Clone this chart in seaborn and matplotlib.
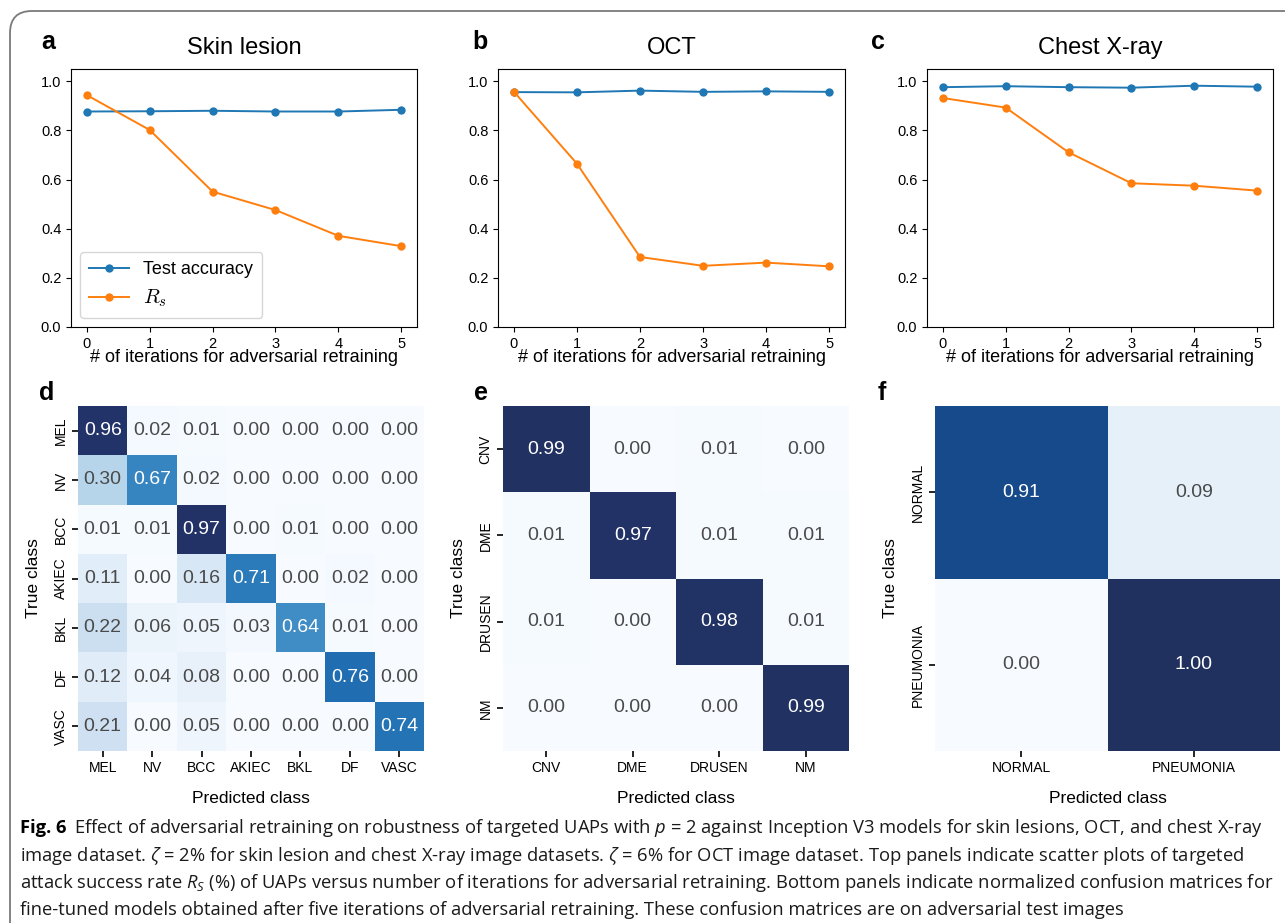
import numpy as np
import pandas as pd
import matplotlib
matplotlib.use('Agg')
import matplotlib.pyplot as plt
import seaborn as sns
from matplotlib.colors import LinearSegmentedColormap
from matplotlib.patches import FancyBboxPatch

plt.rcParams['font.family'] = ['Liberation Sans', 'DejaVu Sans']
plt.rcParams['mathtext.fontset'] = 'cm'
plt.rcParams['mathtext.it'] = 'Open Sans:italic'
plt.rcParams['mathtext.rm'] = 'Open Sans'

# 数据
iterations = [0, 1, 2, 3, 4, 5]
skin_acc = [0.877, 0.878, 0.880, 0.877, 0.877, 0.884]
skin_rs = [0.944, 0.802, 0.551, 0.476, 0.371, 0.329]
oct_acc = [0.956, 0.955, 0.962, 0.957, 0.959, 0.957]
oct_rs = [0.958, 0.665, 0.285, 0.249, 0.262, 0.247]
xray_acc = [0.976, 0.980, 0.976, 0.974, 0.982, 0.978]
xray_rs = [0.932, 0.893, 0.711, 0.585, 0.575, 0.555]

skin_classes = ['MEL', 'NV', 'BCC', 'AKIEC', 'BKL', 'DF', 'VASC']
skin_cm = [[0.96, 0.02, 0.01, 0.00, 0.00, 0.00, 0.00],
           [0.30, 0.67, 0.02, 0.00, 0.00, 0.00, 0.00],
           [0.01, 0.01, 0.97, 0.00, 0.01, 0.00, 0.00],
           [0.11, 0.00, 0.16, 0.71, 0.00, 0.02, 0.00],
           [0.22, 0.06, 0.05, 0.03, 0.64, 0.01, 0.00],
           [0.12, 0.04, 0.08, 0.00, 0.00, 0.76, 0.00],
           [0.21, 0.00, 0.05, 0.00, 0.00, 0.00, 0.74]]
oct_classes = ['CNV', 'DME', 'DRUSEN', 'NM']
oct_cm = [[0.99, 0.00, 0.01, 0.00],
          [0.01, 0.97, 0.01, 0.01],
          [0.01, 0.00, 0.98, 0.01],
          [0.00, 0.00, 0.00, 0.99]]
xray_classes = ['NORMAL', 'PNEUMONIA']
xray_cm = [[0.91, 0.09],
           [0.00, 1.00]]

# 颜色映射 (Blues, 高端偏深蓝)
blues = plt.get_cmap('Blues')
nodes = [(v, blues(v)) for v in np.linspace(0, 0.8, 9)]
nodes += [(0.91, '#174a8a'), (0.96, '#22336a'), (1.0, '#21315f')]
cmap = LinearSegmentedColormap.from_list('blues_dark', nodes)

W, H = 1285, 923
fig = plt.figure(figsize=(W / 100, H / 100), dpi=100)


def px_axes(x0, y0, x1, y1):
    return fig.add_axes([x0 / W, 1 - y1 / H, (x1 - x0) / W, (y1 - y0) / H])


# 上排折线图
top = [(71, 417, 'a', 'Skin lesion', skin_acc, skin_rs, 48),
       (498, 845, 'b', 'OCT', oct_acc, oct_rs, 480),
       (927, 1273, 'c', 'Chest X-ray', xray_acc, xray_rs, 878)]
for i, (x0, x1, letter, title, acc, rs, lx) in enumerate(top):
    ax = px_axes(x0, 69, x1, 327)
    sns.lineplot(x=iterations, y=acc, ax=ax, marker='o', color='tab:blue',
                 markersize=6, markeredgewidth=0, linewidth=1.4, label='Test accuracy')
    sns.lineplot(x=iterations, y=rs, ax=ax, marker='o', color='tab:orange',
                 markersize=6, markeredgewidth=0, linewidth=1.4, label='$R_s$')
    ax.set_xlim(-0.25, 5.25)
    ax.set_ylim(0, 1.05)
    ax.set_yticks([0, 0.2, 0.4, 0.6, 0.8, 1.0])
    ax.set_xticks(iterations)
    ax.tick_params(labelsize=10.5)
    ax.set_xlabel('# of iterations for adversarial retraining', fontsize=13, labelpad=-1.5)
    ax.set_title(title, fontsize=17, pad=11)
    if i == 0:
        leg = ax.legend(loc='lower left', fontsize=13, handlelength=2.2, borderpad=0.5)
        leg.get_texts()[1].set_fontsize(15)
    else:
        ax.get_legend().remove()
    fig.text(lx / W, 1 - 42 / H, letter, fontsize=18, weight='bold', ha='center', va='center')

# 下排混淆矩阵
bottom = [(78, 424, 'd', skin_classes, skin_cm, 47),
          (503, 849, 'e', oct_classes, oct_cm, 481),
          (935, 1280, 'f', xray_classes, xray_cm, 882)]
for x0, x1, letter, classes, cm, lx in bottom:
    ax = px_axes(x0, 406, x1, 751)
    df = pd.DataFrame(cm, index=classes, columns=classes)
    sns.heatmap(df, ax=ax, cmap=cmap, vmin=0, vmax=1, cbar=False, annot=True,
                fmt='.2f', annot_kws={'fontsize': 14})
    for t in ax.texts:
        if t.get_color() != 'w':
            t.set_color('#4a4a4a')
    ax.tick_params(labelsize=10, length=4, width=1.2)
    ax.set_yticklabels(classes, rotation=90, va='center')
    ax.set_xticklabels(classes, rotation=0)
    ax.set_xlabel('Predicted class', fontsize=12.5, labelpad=11)
    ax.set_ylabel('True class', fontsize=12.5, labelpad=9)
    fig.text(lx / W, 1 - 393 / H, letter, fontsize=18, weight='bold', ha='center', va='center')

# 外框
frame = FancyBboxPatch((0.10, -0.5), 13.5, 9.12 + 0.5,
                       boxstyle='round,pad=0,rounding_size=0.22',
                       transform=fig.dpi_scale_trans, fill=False,
                       edgecolor='#7a7a7a', linewidth=1.3, clip_on=False)
fig.add_artist(frame)

# 图注
cap_size = 13.2
cap_font = ['Open Sans', 'DejaVu Sans']
lines = [
    'Effect of adversarial retraining on robustness of targeted UAPs with $p$ = 2 against Inception V3 models for skin lesions, OCT, and chest X-ray',
    'image dataset. $\\zeta$ = 2% for skin lesion and chest X-ray image datasets. $\\zeta$ = 6% for OCT image dataset. Top panels indicate scatter plots of targeted',
    'attack success rate $R_S$ (%) of UAPs versus number of iterations for adversarial retraining. Bottom panels indicate normalized confusion matrices for',
    'fine-tuned models obtained after five iterations of adversarial retraining. These confusion matrices are on adversarial test images',
]
baselines = [833, 861, 888, 915]
bold = fig.text(20 / W, 1 - baselines[0] / H, 'Fig. 6', fontsize=cap_size, weight='bold',
                family=cap_font, va='baseline')
fig.canvas.draw()
bx = bold.get_window_extent().x1
for k, (line, yb) in enumerate(zip(lines, baselines)):
    x = (bx + 7) / W if k == 0 else 20 / W
    fig.text(x, 1 - yb / H, line, fontsize=cap_size, family=cap_font,
             va='baseline', color='#1a1a1a', math_fontfamily='custom')

fig.savefig('out.png', dpi=100)
